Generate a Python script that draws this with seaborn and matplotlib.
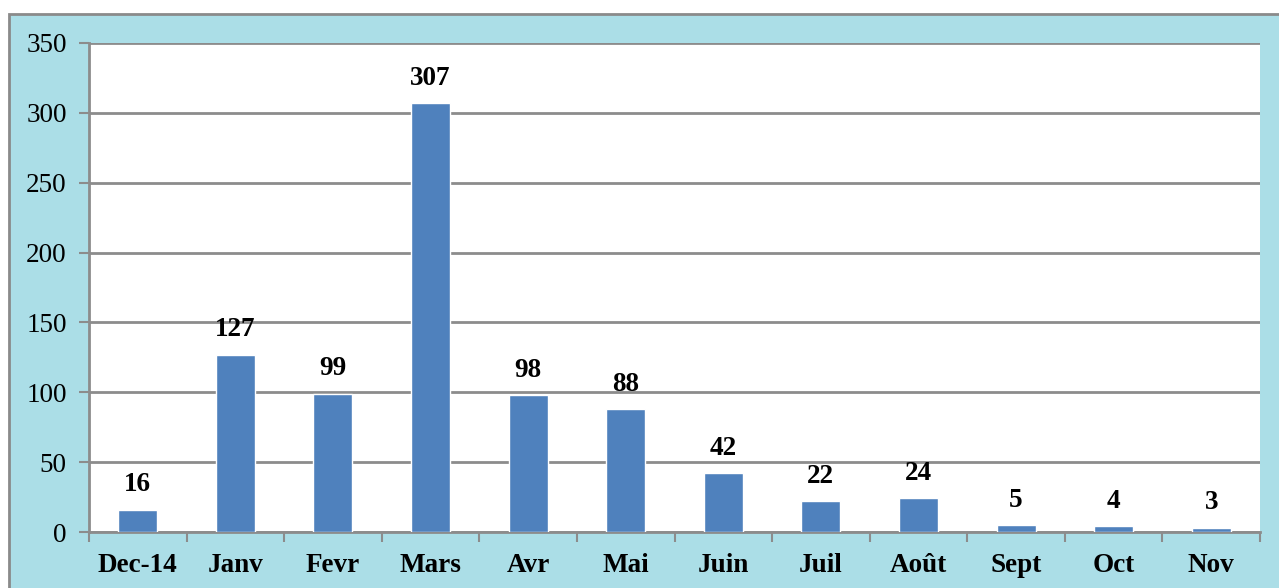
import matplotlib
matplotlib.use("Agg")
import matplotlib.pyplot as plt
from matplotlib.patches import Rectangle
import seaborn as sns
import pandas as pd

months = ["Dec-14", "Janv", "Fevr", "Mars", "Avr", "Mai", "Juin",
          "Juil", "Août", "Sept", "Oct", "Nov"]
counts = [16, 127, 99, 307, 98, 88, 42, 22, 24, 5, 4, 3]
y_ticks = [0, 50, 100, 150, 200, 250, 300, 350]

sns.set_theme(style="white")
plt.rcParams["font.family"] = ["Liberation Serif", "DejaVu Serif"]

W, H = 1279, 588
FS = 19.5
fig = plt.figure(figsize=(W / 100, H / 100), dpi=100, facecolor="white")

# light blue chart frame behind the plot area
frame = Rectangle((9 / W, -0.05), 1.1, (H - 14) / H + 0.05,
                  transform=fig.transFigure, facecolor="#abdee7",
                  edgecolor="#8a8a8a", linewidth=2, zorder=-1)
fig.patches.append(frame)

ax = fig.add_axes([89 / W, (H - 532) / H, (1260 - 89) / W, (532 - 43) / H])
ax.set_zorder(2)
ax.set_facecolor("white")

df = pd.DataFrame({"mois": months, "n": counts})
sns.barplot(data=df, x="mois", y="n", color="#4f81bd", width=0.4,
            saturation=1, ax=ax, zorder=3)

ax.set_xlim(-0.5, len(months) - 0.5)
ax.set_ylim(0, 350)
ax.set_yticks(y_ticks)
ax.set_yticklabels([str(v) for v in y_ticks], fontsize=FS)
ax.set_xlabel("")
ax.set_ylabel("")

# horizontal gridlines
ax.grid(axis="y", color="#8c8c8c", linewidth=2, zorder=1)
ax.grid(axis="x", visible=False)
ax.set_axisbelow(True)

# category labels, with ticks on the boundaries between months
ax.set_xticks(range(len(months)))
ax.set_xticklabels(months, fontsize=FS, fontweight="bold")
ax.set_xticks([i - 0.5 for i in range(len(months) + 1)], minor=True)
ax.tick_params(axis="x", which="major", length=0, pad=15, colors="black")
ax.tick_params(axis="x", which="minor", length=7, width=1.5,
               color="#8c8c8c", direction="out", bottom=True)
ax.tick_params(axis="y", length=7, width=1.5, color="#8c8c8c",
               direction="out", left=True, pad=9, labelcolor="black")

for side in ["top", "right"]:
    ax.spines[side].set_visible(False)
for side in ["left", "bottom"]:
    ax.spines[side].set_color("#8c8c8c")
    ax.spines[side].set_linewidth(2)

# value labels above each bar
for i, v in enumerate(counts):
    ax.annotate(str(v), (i, v), xytext=(0, 18), textcoords="offset points",
                ha="center", va="center", fontsize=FS, fontweight="bold",
                color="black", zorder=4)

fig.savefig("out.png", dpi=100, facecolor="white")
